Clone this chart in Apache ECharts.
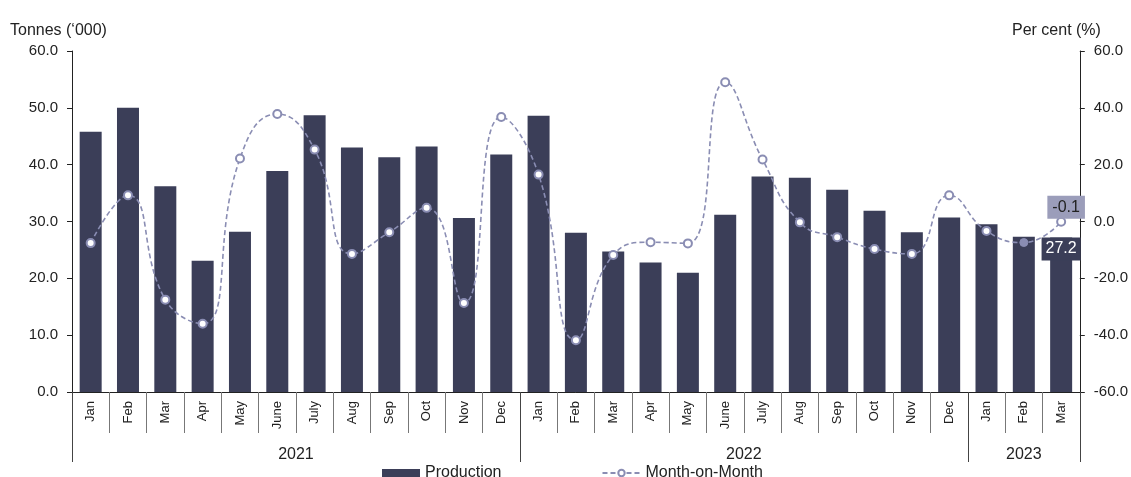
<!DOCTYPE html>
<html>
<head>
<meta charset="utf-8">
<script src="https://cdn.jsdelivr.net/npm/echarts@6/dist/echarts.min.js"></script>
<style>
  html, body { margin: 0; padding: 0; background: #ffffff; }
  #chart { width: 1131px; height: 477px; }
</style>
</head>
<body>
<div id="chart"></div>
<script>
// Monthly production (thousand tonnes) and month-on-month change (%)
const months = [
  'Jan', 'Feb', 'Mar', 'Apr', 'May', 'June', 'July', 'Aug', 'Sep', 'Oct', 'Nov', 'Dec',
  'Jan', 'Feb', 'Mar', 'Apr', 'May', 'June', 'July', 'Aug', 'Sep', 'Oct', 'Nov', 'Dec',
  'Jan', 'Feb', 'Mar'
];
const years = ['2021', '2022', '2023'];
const monthsPerYear = [12, 12, 3];

const production = [
  45.8, 50.0, 36.2, 23.1, 28.2, 38.9, 48.7, 43.0, 41.3, 43.2, 30.6, 41.8,
  48.6, 28.0, 24.7, 22.8, 21.0, 31.2, 37.9, 37.7, 35.6, 31.9, 28.1, 30.7,
  29.5, 27.3, 27.2
];
const monthOnMonth = [
  -7.6, 9.2, -27.5, -36.0, 22.2, 37.8, 25.3, -11.4, -3.8, 4.8, -28.7, 36.8,
  16.5, -41.8, -11.8, -7.3, -7.7, 49.0, 21.8, -0.3, -5.5, -9.7, -11.4, 9.2,
  -3.3, -7.4, -0.1
];

const leftTicks = { min: 0, max: 60, interval: 10 };
const rightTicks = { min: -60, max: 60, interval: 20 };

const BAR = '#3b3e58';
const LINE = '#8a8db3';
const FONT = '"Liberation Sans", Arial, sans-serif';

// year group boundaries and centres on a 0..N scale of category bands
const boundaries = [0];
const centres = [];
monthsPerYear.forEach(function (n) {
  const start = boundaries[boundaries.length - 1];
  centres.push(start + n / 2);
  boundaries.push(start + n);
});

const last = production.length - 1;
const highlighted = last - 1;

const barData = production.map(function (v, i) {
  if (i !== last) return v;
  return {
    value: v,
    label: {
      show: true, position: 'insideTop', distance: 0,
      formatter: function (p) { return p.value.toFixed(1); },
      color: '#ffffff', backgroundColor: BAR,
      fontSize: 16, fontFamily: FONT, padding: [3, 4, 4, 4]
    }
  };
});

const lineData = monthOnMonth.map(function (v, i) {
  if (i === highlighted) {
    return { value: v, symbol: 'circle', itemStyle: { color: LINE } };
  }
  if (i === last) {
    return {
      value: v,
      label: {
        show: true, position: 'top', distance: 0, offset: [5, 2],
        formatter: function (p) { return p.value.toFixed(1); },
        color: '#222222', backgroundColor: '#9b9dba',
        fontSize: 16, fontFamily: FONT, padding: [4, 5, 3, 5]
      }
    };
  }
  return v;
});

const chart = echarts.init(document.getElementById('chart'), null, { renderer: 'canvas' });

chart.setOption({
  animation: false,
  backgroundColor: '#ffffff',
  textStyle: { fontFamily: FONT, color: '#222222' },
  title: [
    { text: 'Tonnes (\u2018000)', left: 5, top: 18,
      textStyle: { fontSize: 16, fontWeight: 'normal', color: '#222222', fontFamily: FONT } },
    { text: 'Per cent (%)', left: 1007, top: 18,
      textStyle: { fontSize: 16, fontWeight: 'normal', color: '#222222', fontFamily: FONT } }
  ],
  legend: {
    left: 377, top: 460,
    itemGap: 100, itemWidth: 38, itemHeight: 8,
    textStyle: { fontSize: 16, color: '#222222', fontFamily: FONT },
    data: [
      { name: 'Production', icon: 'rect' },
      { name: 'Month-on-Month' }
    ]
  },
  grid: { left: 72, right: 50, top: 51, bottom: 85 },
  xAxis: [
    {
      type: 'category',
      data: months,
      position: 'bottom',
      axisLine: { show: true, onZero: false, lineStyle: { color: '#222222', width: 1 } },
      axisTick: { show: true, length: 41, lineStyle: { color: '#777777' } },
      axisLabel: { rotate: 90, margin: 9, fontSize: 13, color: '#222222', fontFamily: FONT, interval: 0 }
    },
    {
      type: 'value',
      min: 0,
      max: months.length,
      position: 'bottom',
      axisLine: { show: false, onZero: false },
      splitLine: { show: false },
      axisTick: { show: true, length: 70, customValues: boundaries, lineStyle: { color: '#444444' } },
      axisLabel: {
        show: true, margin: 55, fontSize: 16, color: '#222222', fontFamily: FONT,
        customValues: centres,
        formatter: function (v) { return years[centres.indexOf(v)] || ''; }
      }
    }
  ],
  yAxis: [
    {
      type: 'value',
      min: leftTicks.min, max: leftTicks.max, interval: leftTicks.interval,
      position: 'left',
      axisLine: { show: true, lineStyle: { color: '#222222' } },
      axisTick: { show: true, length: 5, lineStyle: { color: '#222222' } },
      splitLine: { show: false },
      axisLabel: { margin: 14, fontSize: 15, color: '#222222', fontFamily: FONT,
        formatter: function (v) { return v.toFixed(1); } }
    },
    {
      type: 'value',
      min: rightTicks.min, max: rightTicks.max, interval: rightTicks.interval,
      position: 'right',
      axisLine: { show: true, lineStyle: { color: '#222222' } },
      axisTick: { show: true, length: 5, lineStyle: { color: '#222222' } },
      splitLine: { show: false },
      axisLabel: { margin: 14, fontSize: 15, color: '#222222', fontFamily: FONT,
        formatter: function (v) { return v.toFixed(1); } }
    }
  ],
  series: [
    {
      name: 'Production',
      type: 'bar',
      xAxisIndex: 0, yAxisIndex: 0,
      barWidth: 22,
      itemStyle: { color: BAR },
      data: barData,
      z: 2
    },
    {
      name: 'Month-on-Month',
      type: 'line',
      xAxisIndex: 0, yAxisIndex: 1,
      smooth: 0.5,
      symbol: 'emptyCircle',
      symbolSize: 8,
      itemStyle: { color: LINE, borderColor: LINE, borderWidth: 1 },
      lineStyle: { color: LINE, width: 1.6, type: [5, 3] },
      data: lineData,
      z: 3
    }
  ]
});
</script>
</body>
</html>
